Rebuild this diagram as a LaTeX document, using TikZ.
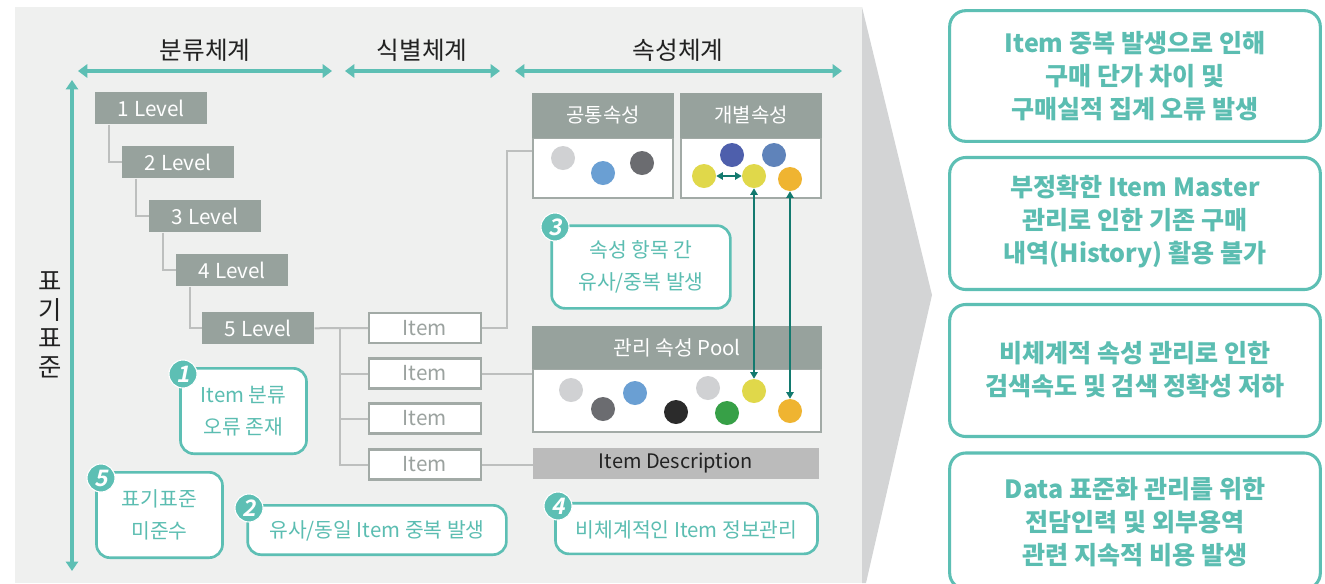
\documentclass[tikz,border=0pt]{standalone}
\usepackage{fontspec}
\setmainfont{Noto Sans CJK KR}
\newfontfamily\badgefont[FakeSlant=0.2]{Noto Sans CJK KR Bold}
\usetikzlibrary{arrows.meta}
\definecolor{teal1}{HTML}{5DBFB4}
\definecolor{tealtxt}{HTML}{5BBDB1}
\definecolor{dteal}{HTML}{137A6F}
\definecolor{panel}{HTML}{EFF0EF}
\definecolor{chev}{HTML}{D3D4D5}
\definecolor{lvl}{HTML}{97A29D}
\definecolor{conn}{HTML}{BDBFBE}
\definecolor{ibord}{HTML}{A2AAA6}
\definecolor{itxt}{HTML}{9BA29F}
\definecolor{desc}{HTML}{BBBBBB}
\definecolor{cLgray}{HTML}{D0D1D3}
\definecolor{cBlue}{HTML}{6A9FD3}
\definecolor{cDgray}{HTML}{6B6C70}
\definecolor{cNavy}{HTML}{4E5FAC}
\definecolor{cSteel}{HTML}{5F83BA}
\definecolor{cYellow}{HTML}{E0D84A}
\definecolor{cOrange}{HTML}{EFB431}
\definecolor{cBlack}{HTML}{2B2B2B}
\definecolor{cGreen}{HTML}{37A047}
\definecolor{htxt}{HTML}{222222}
\begin{document}
\begin{tikzpicture}[x=0.75pt,y=-0.75pt,
  lvlbox/.style={fill=lvl,text=white,inner sep=0,minimum width=84pt,minimum height=24pt,anchor=north west,font=\fontsize{15.5pt}{18pt}\selectfont},
  itembox/.style={draw=ibord,line width=1.8pt,fill=white,text=itxt,inner sep=0,minimum width=84pt,minimum height=22.5pt,font=\fontsize{15.5pt}{18pt}\selectfont},
  connline/.style={draw=conn,line width=1.5pt},
  hdrbox/.style={fill=lvl,text=white,inner sep=0,font=\fontsize{15pt}{18pt}\selectfont},
  bodybox/.style={draw=ibord,line width=1.5pt,fill=white,inner sep=0},
  dot/.style={circle,fill=#1,minimum size=18pt,inner sep=0},
  callout/.style={draw=teal1,line width=2pt,fill=white,rounded corners=10pt,inner sep=0},
  ctext/.style={text=tealtxt,align=center,font=\fontsize{15.3pt}{24pt}\selectfont},
  badge/.style={circle,fill=teal1,draw=white,line width=0.8pt,minimum size=21pt,inner sep=0,text=white,font=\badgefont\fontsize{17pt}{17pt}\selectfont},
  rbox/.style={draw=teal1,line width=2.3pt,fill=white,rounded corners=12pt,inner sep=0,minimum width=278pt},
  rtext/.style={text=tealtxt,align=center,font=\bfseries\fontsize{18.8pt}{24.75pt}\selectfont},
  tarrow/.style={draw=teal1,line width=3pt,{Triangle[length=7pt,width=10pt]}-{Triangle[length=7pt,width=10pt]}},
  darrow/.style={draw=dteal,line width=1.4pt,{Triangle[length=5pt,width=5.5pt]}-{Triangle[length=5pt,width=5.5pt]}},
  htext/.style={text=htxt,font=\fontsize{18.5pt}{22pt}\selectfont}
]
\useasboundingbox (0,0) rectangle (1325,583);
\clip (0,0) rectangle (1325,583);
% background panel and chevron
\fill[panel] (15,7) rectangle (862,583);
\fill[chev] (862,7) -- (932,295) -- (866,583) -- (862,583) -- cycle;

% headers
\node[htext] (h1) at (205,50) {분류체계};
\node[htext] (h2) at (422,50) {식별체계};
\node[htext] (h3) at (678,50) {속성체계};
\coordinate (a1l) at (78,71); \coordinate (a1r) at (332,71);
\coordinate (a2l) at (345,71); \coordinate (a2r) at (500,71);
\coordinate (a3l) at (515,71); \coordinate (a3r) at (842,71);
\draw[tarrow] (a1l) -- (a1r);
\draw[tarrow] (a2l) -- (a2r);
\draw[tarrow] (a3l) -- (a3r);

% vertical axis
\coordinate (vt) at (72,80); \coordinate (vb) at (72,571);
\draw[draw=teal1,line width=2.4pt,{Triangle[length=7pt,width=9pt]}-{Triangle[length=7pt,width=9pt]}] (vt) -- (vb);
\node[htext,align=center,font=\fontsize{19pt}{21.4pt}\selectfont] (vlab) at (50,325) {표\\기\\표\\준};

% levels
\node[lvlbox] (L1) at (95,92) {1 Level};
\node[lvlbox] (L2) at (122,146) {2 Level};
\node[lvlbox] (L3) at (149,200) {3 Level};
\node[lvlbox] (L4) at (176,254) {4 Level};
\node[lvlbox] (L5) at (202,312) {5 Level};
\draw[connline] ([xshift=10.5pt]L1.south west) |- (L2.west);
\draw[connline] ([xshift=10.5pt]L2.south west) |- (L3.west);
\draw[connline] ([xshift=10.5pt]L3.south west) |- (L4.west);
\draw[connline] ([xshift=10.5pt]L4.south west) |- (L5.west);

% items
\node[itembox] (I1) at (425,328) {Item};
\node[itembox] (I2) at (425,373.5) {Item};
\node[itembox] (I3) at (425,418.5) {Item};
\node[itembox] (I4) at (425,464.5) {Item};
\coordinate (tr) at (340,328);
\draw[connline] (L5.east) -- (I1.west);
\draw[connline] (tr) |- (I2.west);
\draw[connline] (tr) |- (I3.west);
\draw[connline] (tr) |- (I4.west);

% attribute boxes
\node[bodybox,minimum width=105pt,minimum height=45pt] (cbody) at (603,168) {};
\node[hdrbox,minimum width=106pt,minimum height=34pt] (chead) at (603,115.5) {공통속성};
\node[bodybox,minimum width=105pt,minimum height=45pt] (ibody) at (751,168) {};
\node[hdrbox,minimum width=106pt,minimum height=34pt] (ihead) at (751,115.5) {개별속성};

\node[bodybox,minimum width=216pt,minimum height=47pt] (pbody) at (677,400.5) {};
\node[hdrbox,minimum width=217pt,minimum height=32pt,font=\fontsize{15.3pt}{18pt}\selectfont] (phead) at (677,347.5) {관리 속성 Pool};
\node[fill=desc,inner sep=0,minimum width=214.5pt,minimum height=23.5pt,text=htxt,font=\fontsize{15pt}{18pt}\selectfont] (desc) at (676,463.5) {Item Description};

\coordinate (k1) at (507,151);
\draw[connline] (I1.east) -| (k1) -- (cbody.west |- k1);
\draw[connline] (I2.east) -- (pbody.west |- I2.east);
\draw[connline] (I4.east) -- (desc.west |- I4.east);

% dots - common
\node[dot=cLgray] (c1) at (563,158) {};
\node[dot=cBlue] (c2) at (603,173) {};
\node[dot=cDgray] (c3) at (642,163) {};
% dots - individual
\node[dot=cNavy] (i1) at (732,155) {};
\node[dot=cSteel] (i2) at (774,155) {};
\node[dot=cYellow] (iy1) at (704,176) {};
\node[dot=cYellow] (iy2) at (754,176) {};
\node[dot=cOrange] (io) at (790,179) {};
% dots - pool
\node[dot=cLgray] (p1) at (571,390) {};
\node[dot=cDgray] (p2) at (603,409) {};
\node[dot=cBlue] (p3) at (635,393) {};
\node[dot=cBlack] (p4) at (676,412) {};
\node[dot=cLgray] (p5) at (708,388) {};
\node[dot=cGreen] (p6) at (727,413) {};
\node[dot=cYellow] (py) at (754,391) {};
\node[dot=cOrange] (po) at (790,411) {};
\draw[darrow] (iy1.east) -- (iy2.west);
\draw[darrow] (iy2.south) -- (py.north);
\draw[darrow] (io.south) -- (po.north);

% callouts
\node[callout,minimum width=94.5pt,minimum height=64pt] (co1) at (243.5,411) {};
\node[ctext] (t1) at (243.5,411) {Item 분류\\오류 존재};
\node[badge] (b1) at (183,374) {1};

\node[callout,minimum width=94.5pt,minimum height=64pt] (co5) at (159.5,515) {};
\node[ctext] (t5) at (159.5,515) {표기표준\\미준수};
\node[badge] (b5) at (101,478) {5};

\node[callout,minimum width=194pt,minimum height=37pt] (co2) at (377,530) {};
\node[ctext] (t2) at (377,531) {유사/동일 Item 중복 발생};
\node[badge] (b2) at (249,508) {2};

\node[callout,minimum width=134pt,minimum height=62pt] (co3) at (641,267) {};
\node[ctext] (t3) at (641,267) {속성 항목 간\\유사/중복 발생};
\node[badge] (b3) at (555,227) {3};

\node[callout,minimum width=196.5pt,minimum height=38pt] (co4) at (686.5,528.5) {};
\node[ctext] (t4) at (686.5,529.5) {비체계적인 Item 정보관리};
\node[badge] (b4) at (558,506) {4};

% right boxes
\node[rbox,minimum height=98pt] (r1) at (1135,76) {};
\node[rtext] (rt1) at (1135,76) {Item 중복 발생으로 인해\\구매 단가 차이 및\\구매실적 집계 오류 발생};
\node[rbox,minimum height=99pt] (r2) at (1135,223.5) {};
\node[rtext] (rt2) at (1135,222) {부정확한 Item Master\\관리로 인한 기존 구매\\내역(History) 활용 불가};
\node[rbox,minimum height=99pt] (r3) at (1135,370.5) {};
\node[rtext] (rt3) at (1135,370) {비체계적 속성 관리로 인한\\검색속도 및 검색 정확성 저하};
\node[rbox,minimum height=102pt] (r4) at (1135,521) {};
\node[rtext] (rt4) at (1135,522) {Data 표준화 관리를 위한\\전담인력 및 외부용역\\관련 지속적 비용 발생};
\end{tikzpicture}
\end{document}
